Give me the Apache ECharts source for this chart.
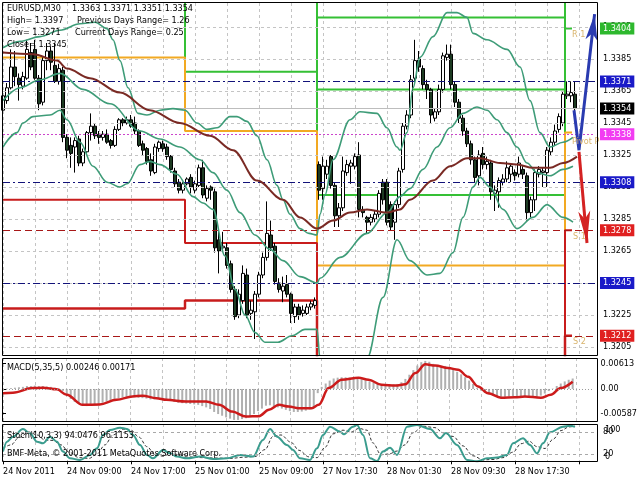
<!DOCTYPE html>
<html><head><meta charset="utf-8">
<script src="https://cdn.jsdelivr.net/npm/echarts@6/dist/echarts.min.js"></script>
<style>html,body{margin:0;padding:0;background:#fff}#c{width:640px;height:480px}</style>
</head><body><div id="c"></div>
<script>
// ---------- data ----------
const tickLabels = ['24 Nov 2011','24 Nov 09:00','24 Nov 17:00','25 Nov 01:00','25 Nov 09:00','27 Nov 17:30','28 Nov 01:30','28 Nov 09:30','28 Nov 17:30'];
const priceTicks = [1.3205,1.3225,1.3245,1.3265,1.3285,1.3305,1.3325,1.3345,1.3365,1.3385,1.3405];
const macdTicks = [0.00613, 0, -0.00587];
const stochTicks = [80, 20];

const opens = [1.3353,1.3359,1.3367,1.3380,1.3373,1.3368,1.3373,1.3389,1.3391,1.3373,
1.3358,1.3384,1.3390,1.3381,1.3371,1.3378,1.3336,1.3331,1.3330,1.3335,
1.3320,1.3327,1.3339,1.3343,1.3338,1.3336,1.3338,1.3334,1.3331,1.3341,
1.3347,1.3345,1.3347,1.3345,1.3340,1.3332,1.3329,1.3322,1.3314,1.3329,
1.3332,1.3330,1.3324,1.3315,1.3308,1.3303,1.3307,1.3311,1.3303,1.3306,
1.3317,1.3298,1.3305,1.3302,1.3272,1.3267,1.3267,1.3257,1.3241,1.3225,
1.3234,1.3250,1.3226,1.3227,1.3238,1.3250,1.3261,1.3275,1.3268,1.3245,
1.3240,1.3244,1.3238,1.3224,1.3230,1.3226,1.3226,1.3230,1.3231,1.3319,
1.3304,1.3313,1.3324,1.3306,1.3287,1.3292,1.3314,1.3318,1.3318,1.3325,
1.3291,1.3286,1.3283,1.3285,1.3288,1.3308,1.3308,1.3294,1.3283,1.3294,
1.3316,1.3343,1.3350,1.3373,1.3385,1.3379,1.3369,1.3366,1.3348,1.3352,
1.3366,1.3386,1.3388,1.3369,1.3358,1.3348,1.3340,1.3332,1.3322,1.3312,
1.3326,1.3319,1.3320,1.3301,1.3302,1.3308,1.3310,1.3313,1.3314,1.3313,
1.3316,1.3312,1.3289,1.3297,1.3313,1.3314,1.3314,1.3327,1.3333,1.3341,
1.3345,1.3362,1.3362,1.3363];
const highs = [1.3366,1.3370,1.3391,1.3390,1.3376,1.3377,1.3397,1.3395,1.3397,1.3375,
1.3386,1.3395,1.3393,1.3395,1.3382,1.3380,1.3338,1.3336,1.3336,1.3337,
1.3329,1.3340,1.3351,1.3345,1.3340,1.3340,1.3341,1.3335,1.3343,1.3348,
1.3348,1.3349,1.3350,1.3349,1.3341,1.3334,1.3330,1.3326,1.3332,1.3334,
1.3334,1.3332,1.3325,1.3317,1.3310,1.3308,1.3311,1.3313,1.3309,1.3319,
1.3322,1.3306,1.3306,1.3304,1.3279,1.3277,1.3270,1.3259,1.3243,1.3241,
1.3256,1.3254,1.3234,1.3240,1.3252,1.3264,1.3296,1.3284,1.3270,1.3248,
1.3249,1.3250,1.3239,1.3232,1.3232,1.3231,1.3232,1.3234,1.3236,1.3321,
1.3324,1.3322,1.3325,1.3308,1.3295,1.3324,1.3322,1.3322,1.3326,1.3333,
1.3293,1.3287,1.3288,1.3290,1.3303,1.3310,1.3310,1.3296,1.3296,1.3317,
1.3345,1.3353,1.3375,1.3397,1.3390,1.3381,1.3372,1.3367,1.3354,1.3369,
1.3389,1.3394,1.3394,1.3371,1.3360,1.3350,1.3342,1.3334,1.3324,1.3328,
1.3330,1.3324,1.3322,1.3306,1.3311,1.3313,1.3321,1.3320,1.3316,1.3324,
1.3318,1.3314,1.3299,1.3316,1.3318,1.3317,1.3330,1.3336,1.3344,1.3351,
1.3365,1.3371,1.3371,1.3371];
const lows = [1.3351,1.3357,1.3366,1.3368,1.3359,1.3366,1.3372,1.3378,1.3372,1.3353,
1.3356,1.3378,1.3378,1.3370,1.3369,1.3333,1.3323,1.3317,1.3314,1.3318,
1.3318,1.3326,1.3334,1.3335,1.3332,1.3334,1.3332,1.3329,1.3330,1.3340,
1.3343,1.3344,1.3342,1.3338,1.3330,1.3325,1.3319,1.3312,1.3313,1.3327,
1.3327,1.3322,1.3314,1.3305,1.3301,1.3301,1.3306,1.3301,1.3301,1.3305,
1.3298,1.3296,1.3297,1.3264,1.3251,1.3265,1.3254,1.3239,1.3222,1.3223,
1.3232,1.3223,1.3222,1.3210,1.3236,1.3248,1.3259,1.3265,1.3244,1.3239,
1.3233,1.3236,1.3220,1.3220,1.3222,1.3224,1.3225,1.3228,1.3229,1.3297,
1.3297,1.3310,1.3304,1.3280,1.3280,1.3290,1.3312,1.3307,1.3316,1.3286,
1.3286,1.3276,1.3281,1.3283,1.3286,1.3294,1.3281,1.3278,1.3272,1.3292,
1.3314,1.3341,1.3348,1.3371,1.3377,1.3366,1.3360,1.3345,1.3346,1.3350,
1.3364,1.3384,1.3366,1.3355,1.3345,1.3337,1.3330,1.3319,1.3308,1.3306,
1.3316,1.3316,1.3297,1.3290,1.3292,1.3306,1.3308,1.3308,1.3309,1.3311,
1.3310,1.3284,1.3286,1.3290,1.3311,1.3305,1.3305,1.3325,1.3331,1.3339,
1.3343,1.3360,1.3358,1.3351];
const closes = [1.3362,1.3367,1.3380,1.3374,1.3369,1.3374,1.3391,1.3380,1.3373,1.3357,
1.3384,1.3390,1.3383,1.3371,1.3379,1.3336,1.3328,1.3326,1.3334,1.3320,
1.3327,1.3339,1.3343,1.3337,1.3336,1.3338,1.3333,1.3331,1.3341,1.3347,
1.3345,1.3347,1.3343,1.3340,1.3331,1.3328,1.3321,1.3315,1.3330,1.3333,
1.3329,1.3324,1.3316,1.3307,1.3303,1.3307,1.3310,1.3305,1.3307,1.3317,
1.3300,1.3304,1.3303,1.3267,1.3265,1.3268,1.3256,1.3241,1.3224,1.3238,
1.3251,1.3225,1.3228,1.3238,1.3250,1.3261,1.3276,1.3267,1.3246,1.3241,
1.3243,1.3238,1.3226,1.3230,1.3225,1.3228,1.3230,1.3232,1.3234,1.3303,
1.3318,1.3318,1.3306,1.3287,1.3292,1.3315,1.3319,1.3320,1.3324,1.3291,
1.3289,1.3283,1.3286,1.3288,1.3301,1.3297,1.3283,1.3280,1.3294,1.3315,
1.3343,1.3350,1.3372,1.3384,1.3380,1.3369,1.3366,1.3350,1.3352,1.3366,
1.3387,1.3388,1.3369,1.3358,1.3348,1.3340,1.3332,1.3322,1.3311,1.3325,
1.3319,1.3321,1.3302,1.3303,1.3309,1.3310,1.3317,1.3318,1.3312,1.3320,
1.3313,1.3289,1.3297,1.3314,1.3316,1.3315,1.3328,1.3333,1.3340,1.3349,
1.3363,1.3363,1.3364,1.3354];

const bbUpper = [[0,1.3392],[4.25,1.3396],[9.25,1.3399],[14.25,1.3403],[19.25,1.3407],[23,1.3408],[26,1.3404],[27.5,1.3397],[29.25,1.3384],[31.25,1.3367],[33.75,1.3351],[36,1.3350],[39.25,1.3353],[42.5,1.3354],[45.5,1.3353],[48.5,1.3345],[51,1.3341],[53.5,1.3342],[56.75,1.3349],[58.5,1.3349],[61,1.3346],[63.5,1.3337],[66,1.3322],[68.5,1.3306],[70,1.3297],[71.75,1.3288],[74.25,1.3279],[76.5,1.3276],[78.5,1.3275],[79.25,1.3288],[80.5,1.3300],[82.5,1.3322],[86.75,1.3347],[89.25,1.3352],[93.5,1.3351],[96,1.3342],[98.5,1.3330],[99.25,1.3328],[101,1.3339],[102.5,1.3367],[104.25,1.3386],[107.5,1.3399],[111,1.3414],[113.5,1.3414],[116,1.3411],[117.5,1.3401],[121,1.3397],[126,1.3391],[129.25,1.3380],[131.75,1.3359],[134.25,1.3339],[136.75,1.3330],[140,1.3333],[142.5,1.3336]];
const bbMiddle = [[0,1.3359],[4.25,1.3367],[9.25,1.3372],[14.25,1.3376],[20,1.3366],[26.75,1.3357],[34.25,1.3340],[39.25,1.3335],[44.25,1.3330],[49.25,1.3322],[52.5,1.3314],[56,1.3303],[59.25,1.3289],[63,1.3275],[66.75,1.3266],[70,1.3259],[74.25,1.3249],[78.5,1.3245],[79.25,1.3248],[84.25,1.3261],[91,1.3276],[96,1.3289],[99.25,1.3299],[101.75,1.3304],[105,1.3316],[108.5,1.3330],[111.75,1.3342],[115,1.3351],[118.5,1.3355],[121,1.3353],[123.5,1.3347],[126,1.3339],[128.5,1.3330],[131,1.3320],[133.5,1.3314],[136.75,1.3312],[140,1.3316],[142.5,1.3318]];
const bbLower = [[0,1.3330],[3.5,1.3339],[5,1.3345],[7.5,1.3349],[11.75,1.3350],[14.25,1.3353],[16,1.3347],[19.25,1.3333],[22.5,1.3318],[26,1.3308],[29.25,1.3305],[31,1.3307],[34.25,1.3319],[36.75,1.3321],[39.25,1.3319],[43.5,1.3313],[47.5,1.3299],[50,1.3295],[52.5,1.3291],[55.5,1.3262],[58,1.3241],[60.5,1.3225],[63,1.3214],[65.5,1.3208],[68.75,1.3208],[72.25,1.3212],[75.5,1.3216],[78.5,1.3216],[79.25,1.3198],[81.75,1.3178],[85.5,1.3159],[91,1.3198],[95,1.3236],[98.5,1.3272],[101.75,1.3259],[106,1.3250],[109.25,1.3251],[112.5,1.3264],[115,1.3286],[117.5,1.3305],[119.25,1.3311],[121.75,1.3305],[125,1.3291],[128.5,1.3279],[132.5,1.3286],[136,1.3294],[140,1.3286],[142.5,1.3283]];
const maLine = [[0,1.3389],[7.5,1.3388],[13.5,1.3384],[16,1.3379],[21.75,1.3373],[29.25,1.3364],[36.75,1.3353],[44.25,1.3345],[51.75,1.3337],[57.5,1.3328],[63.5,1.3309],[70,1.3297],[74.25,1.3286],[78.5,1.3279],[82.5,1.3284],[86.75,1.3289],[91,1.3291],[96,1.3289],[99.25,1.3291],[101.75,1.3297],[107.5,1.3309],[111.75,1.3318],[116,1.3323],[119.25,1.3323],[124.25,1.3320],[128.5,1.3319],[132.5,1.3317],[136.75,1.3317],[140,1.3320],[143.5,1.3324]];

// daily pivot levels (day boundaries in bar units)
const dayStart = [0, 45.5, 78.5, 140.5];
const dayEnd = [45.5, 78.5, 140.5, 142.25];
const pivotLevels = [1.3386, 1.3340, 1.3256, 1.3339];
const r1Levels = [1.3445, 1.3377, 1.3300, 1.3404];
const r2Levels = [1.3490, 1.3430, 1.3366, 1.3450];
const r3Levels = [1.3530, 1.3470, 1.3411, 1.3500];
const s1Levels = [1.3297, 1.3270, 1.3170, 1.3278];
const s2Levels = [1.3229, 1.3234, 1.3130, 1.3212];

const levelPrices = [1.3404, 1.3371, 1.3354, 1.3338, 1.3308, 1.3278, 1.3245, 1.3212];

const projUp = [[142.75,1.3353],[144,1.3328],[147.9,1.3413]];
const projDown = [[144,1.3327],[146,1.3270]];

const macdHist = [0.0000,0.0001,0.0002,0.0003,0.0004,0.0005,0.0007,0.0007,0.0008,0.0007,
0.0007,0.0006,0.0005,0.0003,0.0001,-0.0005,-0.0015,-0.0024,-0.0031,-0.0036,
-0.0040,-0.0041,-0.0040,-0.0038,-0.0036,-0.0033,-0.0030,-0.0027,-0.0024,-0.0022,
-0.0020,-0.0019,-0.0019,-0.0020,-0.0021,-0.0022,-0.0023,-0.0025,-0.0025,-0.0024,
-0.0025,-0.0027,-0.0029,-0.0031,-0.0033,-0.0034,-0.0035,-0.0036,-0.0037,-0.0038,
-0.0041,-0.0044,-0.0048,-0.0055,-0.0060,-0.0064,-0.0068,-0.0071,-0.0074,-0.0074,
-0.0072,-0.0070,-0.0066,-0.0060,-0.0053,-0.0047,-0.0040,-0.0039,-0.0041,-0.0044,
-0.0047,-0.0050,-0.0053,-0.0055,-0.0055,-0.0054,-0.0052,-0.0049,-0.0045,-0.0010,
0.0005,0.0013,0.0020,0.0025,0.0027,0.0028,0.0028,0.0027,0.0026,0.0025,
0.0023,0.0021,0.0018,0.0015,0.0013,0.0012,0.0011,0.0011,0.0011,0.0012,
0.0016,0.0024,0.0034,0.0045,0.0056,0.0064,0.0067,0.0065,0.0060,0.0056,
0.0055,0.0055,0.0052,0.0047,0.0041,0.0035,0.0028,0.0020,0.0012,0.0002,
-0.0004,-0.0009,-0.0013,-0.0016,-0.0018,-0.0019,-0.0019,-0.0018,-0.0017,-0.0017,
-0.0018,-0.0020,-0.0021,-0.0021,-0.0019,-0.0016,-0.0011,-0.0005,0.0001,0.0007,
0.0013,0.0018,0.0022,0.0025];
const macdSignal = [[0,-0.0010],[2.5,-0.0009],[7.5,0.0002],[10,0.0003],[13.5,-0.0001],[16,-0.0014],[20,-0.0038],[24.25,-0.0037],[28.5,-0.0026],[32.5,-0.0018],[35,-0.0016],[38.5,-0.0022],[41,-0.0026],[46,-0.0030],[51,-0.0030],[54.25,-0.0038],[57.5,-0.0054],[61,-0.0066],[64.25,-0.0065],[66.75,-0.0050],[69.25,-0.0038],[71.75,-0.0042],[74.25,-0.0046],[77.5,-0.0046],[79.25,-0.0038],[81.75,0.0002],[85,0.0022],[89.25,0.0027],[91.75,0.0022],[95,0.0010],[98.5,0.0008],[101,0.0011],[103.5,0.0038],[106,0.0059],[108.5,0.0056],[111.75,0.0050],[114.25,0.0046],[116.75,0.0029],[119.25,0.0006],[121.75,-0.0010],[125,-0.0021],[128.5,-0.0020],[131,-0.0018],[135,-0.0021],[137.5,-0.0014],[140,0.0002],[143,0.0017]];

const stochMain = [[0,26.5],[1,53.7],[2.5,67.4],[5,88.3],[6.75,76.5],[8.5,53.7],[10,49.2],[11.75,67.4],[13.5,53.7],[15,26.5],[16.75,8.2],[19.25,3.7],[21.75,17.3],[23.5,35.5],[25,71.9],[26.75,85.5],[29.25,91.9],[31,88.3],[32.5,71.9],[34.25,44.6],[36,17.3],[37.5,8.2],[40,31],[41.75,21.9],[43.5,12.8],[46,8.2],[49.25,12.8],[52.5,6.4],[56,8.2],[59.25,17.3],[62.5,12.8],[65,58.3],[66.75,88.3],[68.5,67.4],[71,44.6],[72.5,31],[74.25,8.2],[76.75,3.7],[78.5,35.5],[80,71.9],[81.75,94.6],[84.25,81],[85.25,74],[87.5,94.6],[88.5,99.2],[90,71.9],[91.75,8.2],[93.5,1],[95,26.5],[96.75,37.3],[98.5,17.3],[101,94.6],[103.5,99.2],[106.75,88.3],[109.25,62.8],[110.75,77],[113.5,44.6],[116,3.7],[118.5,0],[121,8.2],[123.5,10.1],[126,17.3],[127.5,49.2],[130,62.8],[131.75,44.6],[133.5,21.9],[135,49.2],[136.75,79.2],[140,94.6],[141.75,97.3],[143,94.05]];
const stochSignal = [[0,35],[2,45],[4,65],[6.5,80],[8.5,72],[10.5,58],[12.5,57],[14.5,45],[16.5,25],[19,10],[21.5,8],[23.5,20],[25.5,45],[27.5,72],[30,88],[32,85],[34,66],[36,40],[38,18],[40,14],[42,22],[44,18],[46,12],[50,10],[53,9],[57,8],[60,11],[63,13],[65.5,32],[67.5,68],[69.5,72],[72,52],[74,30],[76.5,12],[78.5,10],[80.5,38],[82.5,75],[85,85],[87,80],[89,90],[91,85],[92.5,50],[94.5,18],[96.5,20],[98.5,28],[100.5,45],[102.5,78],[105,96],[108,92],[110,78],[112.5,68],[115,42],[117.5,15],[120,4],[122.5,5],[125,10],[127.5,25],[129.5,48],[131.5,55],[133.5,40],[135.5,35],[137.5,60],[139.5,84],[141.5,94],[143,96.1]];

// ---------- build ----------
const NCAT = 149;
const cats = [];
for (let i = 0; i < NCAT; i++) cats.push('b' + i);
function xLabel(v, idx) {
  const k = idx / 16;
  return (idx % 16 === 0 && k < tickLabels.length) ? tickLabels[k] : '';
}
const candleData = opens.map((o, i) => [o, closes[i], lows[i], highs[i]]);
function steps(levels) {
  const pts = [];
  levels.forEach((v, d) => { pts.push([dayStart[d], v]); pts.push([dayEnd[d], v]); });
  return pts;
}

const F = "'DejaVu Sans Condensed', 'DejaVu Sans', sans-serif";
const FS = 9;
const FONT = FS + 'px ' + F;
const gridLineStyle = {color: '#c4c4c4', type: [3, 3], width: 1};

const navy = {color: '#12127a', type: [7, 3, 2, 3], width: 1};
const dred = {color: '#a81818', type: [7, 4], width: 1};
const levelStyles = [
  {box: '#2eb82e', line: {color: 'rgba(0,0,0,0)', type: 'solid', width: 1}},
  {box: '#1a1ac8', line: navy},
  {box: '#000000', line: {color: '#bdbdbd', type: 'solid', width: 1}},
  {box: '#f23cf2', line: {color: '#cc44cc', type: [2, 2], width: 1}},
  {box: '#1a1ac8', line: navy},
  {box: '#e02020', line: dred},
  {box: '#1a1ac8', line: navy},
  {box: '#e02020', line: dred}
];

const markData = priceTicks.map(v => ({yAxis: v, lineStyle: gridLineStyle, label: {show: false}}))
  .concat(levelPrices.map((v, k) => ({
    yAxis: v,
    lineStyle: levelStyles[k].line,
    label: {show: true, position: 'end', distance: 5, formatter: v.toFixed(4),
      color: '#fff', backgroundColor: levelStyles[k].box, padding: [2, 3, 1, 3],
      fontFamily: F, fontSize: FS, opacity: 1}
  })));

const catAxisBase = (grid) => ({
  type: 'category', gridIndex: grid, data: cats, boundaryGap: false,
  axisLine: {show: false}, axisTick: {show: false}, axisLabel: {show: false},
  splitLine: {show: true, interval: 7, lineStyle: gridLineStyle}
});
const valX = (grid) => ({type: 'value', gridIndex: grid, min: 0, max: 148, show: false});

const lineBase = {type: 'line', symbol: 'none', smooth: 0.35, smoothMonotone: 'x', animation: false};
const stepBase = {type: 'line', symbol: 'none', smooth: false, animation: false, xAxisIndex: 1, yAxisIndex: 0, z: 2};

const option = {
  animation: false,
  backgroundColor: '#ffffff',
  textStyle: {fontFamily: F},
  grid: [
    {left: 3, top: 3, width: 592, height: 352},
    {left: 3, top: 358, width: 592, height: 64},
    {left: 3, top: 424, width: 592, height: 38}
  ],
  xAxis: [
    catAxisBase(0), valX(0),
    catAxisBase(1), valX(1),
    Object.assign(catAxisBase(2), {
      axisTick: {show: true, interval: 15, length: 3, lineStyle: {color: '#000'}},
      axisLabel: {show: true, interval: 15, align: 'left', margin: 5, fontSize: FS, color: '#000', fontFamily: F, formatter: xLabel}
    }),
    valX(2)
  ],
  yAxis: [
    {type: 'value', gridIndex: 0, position: 'right', offset: 2, min: 1.3200, max: 1.3420,
      splitLine: {show: false}, axisLine: {show: false},
      axisTick: {show: true, customValues: priceTicks, length: 3, lineStyle: {color: '#000'}},
      axisLabel: {customValues: priceTicks, formatter: v => v.toFixed(4), fontSize: FS, color: '#000', margin: 6, fontFamily: F}},
    {type: 'value', gridIndex: 1, position: 'right', offset: 2, min: -0.0079, max: 0.0074,
      splitLine: {show: false}, axisLine: {show: false},
      axisTick: {show: true, customValues: macdTicks, length: 3, lineStyle: {color: '#000'}},
      axisLabel: {customValues: macdTicks, formatter: v => (v === 0 ? '0.00' : v.toFixed(5)), fontSize: FS, color: '#000', margin: 6, fontFamily: F}},
    {type: 'value', gridIndex: 2, position: 'right', offset: 2, min: -1.9, max: 101.9,
      splitLine: {show: false}, axisLine: {show: false},
      axisTick: {show: true, customValues: stochTicks, length: 3, lineStyle: {color: '#000'}},
      axisLabel: {customValues: stochTicks, formatter: v => String(v), fontSize: FS, color: '#000', margin: 6, fontFamily: F}}
  ],
  series: [
    // hidden close line carrying the horizontal grid + level lines
    {type: 'line', xAxisIndex: 0, yAxisIndex: 0, data: closes, z: 1, silent: true, symbol: 'none',
      lineStyle: {opacity: 0}, animation: false,
      markLine: {silent: true, symbol: ['none', 'none'], animation: false, precision: 4, data: markData}},
    Object.assign({}, stepBase, {data: steps(r1Levels), lineStyle: {color: '#35c035', width: 2}}),
    Object.assign({}, stepBase, {data: steps(r2Levels), lineStyle: {color: '#35c035', width: 2}}),
    Object.assign({}, stepBase, {data: steps(r3Levels), lineStyle: {color: '#35c035', width: 2}}),
    Object.assign({}, stepBase, {data: steps(pivotLevels), lineStyle: {color: '#f2a922', width: 2}}),
    Object.assign({}, stepBase, {data: steps(s1Levels), lineStyle: {color: '#c81c1c', width: 2}}),
    Object.assign({}, stepBase, {data: steps(s2Levels), lineStyle: {color: '#c81c1c', width: 2.5}}),
    {type: 'candlestick', xAxisIndex: 0, yAxisIndex: 0, data: candleData, barWidth: 3, z: 4,
      itemStyle: {color: '#ffffff', color0: '#1d3b22', borderColor: '#000000', borderColor0: '#000000', borderWidth: 1}},
    Object.assign({}, lineBase, {xAxisIndex: 1, yAxisIndex: 0, data: bbUpper, lineStyle: {color: '#3e9c78', width: 1.6}, z: 5}),
    Object.assign({}, lineBase, {xAxisIndex: 1, yAxisIndex: 0, data: bbMiddle, lineStyle: {color: '#3e9c78', width: 1.6}, z: 5}),
    Object.assign({}, lineBase, {xAxisIndex: 1, yAxisIndex: 0, data: bbLower, lineStyle: {color: '#3e9c78', width: 1.6}, z: 5}),
    Object.assign({}, lineBase, {xAxisIndex: 1, yAxisIndex: 0, data: maLine, lineStyle: {color: '#7a2a24', width: 2}, z: 5}),
    {type: 'line', xAxisIndex: 1, yAxisIndex: 0, z: 6, symbol: 'none', showSymbol: true, animation: false,
      lineStyle: {color: '#2a3bb0', width: 3}, itemStyle: {color: '#2a3bb0'},
      data: projUp.map((p, k) => k === projUp.length - 1 ? {value: p, symbol: 'arrow', symbolSize: [9, 26], symbolRotate: -7} : {value: p})},
    {type: 'line', xAxisIndex: 1, yAxisIndex: 0, z: 6, symbol: 'none', showSymbol: true, animation: false,
      lineStyle: {color: '#d42222', width: 3}, itemStyle: {color: '#d42222'},
      data: projDown.map((p, k) => k === projDown.length - 1 ? {value: p, symbol: 'arrow', symbolSize: [9, 32], symbolRotate: 185} : {value: p})},
    // MACD
    {type: 'bar', xAxisIndex: 2, yAxisIndex: 1, data: macdHist, barWidth: 2, itemStyle: {color: '#b0b0b0'}, z: 2, animation: false,
      markLine: {silent: true, symbol: ['none', 'none'], label: {show: false}, data: [{yAxis: 0}], lineStyle: {color: '#9a9a9a', type: [1, 2], width: 1}}},
    Object.assign({}, lineBase, {xAxisIndex: 3, yAxisIndex: 1, data: macdSignal, lineStyle: {color: '#cc1b1b', width: 2.5}, z: 3}),
    // Stochastic
    Object.assign({}, lineBase, {xAxisIndex: 5, yAxisIndex: 2, data: stochSignal, lineStyle: {color: '#333333', width: 1, type: [3, 2]}, z: 3,
      markLine: {silent: true, symbol: ['none', 'none'], label: {show: false}, data: [{yAxis: 80}, {yAxis: 20}], lineStyle: {color: '#a8a8a8', type: [3, 3], width: 1}}}),
    Object.assign({}, lineBase, {xAxisIndex: 5, yAxisIndex: 2, data: stochMain, lineStyle: {color: '#3a9c8e', width: 2}, z: 4})
  ],
  graphic: [
    {type: 'rect', shape: {x: 2.5, y: 2.5, width: 595, height: 353}, style: {fill: 'none', stroke: '#000', lineWidth: 1}, z: 100, silent: true},
    {type: 'rect', shape: {x: 2.5, y: 358.5, width: 595, height: 63}, style: {fill: 'none', stroke: '#000', lineWidth: 1}, z: 100, silent: true},
    {type: 'rect', shape: {x: 2.5, y: 424.5, width: 595, height: 37}, style: {fill: 'none', stroke: '#000', lineWidth: 1}, z: 100, silent: true},
    {type: 'text', x: 7, y: 9, z: 100, style: {text: 'EURUSD,M30', fill: '#000', font: FONT, verticalAlign: 'middle'}},
    {type: 'text', x: 72, y: 9, z: 100, style: {text: '1.3363 1.3371 1.3351 1.3354', fill: '#000', font: FONT, verticalAlign: 'middle'}},
    {type: 'text', x: 7, y: 21, z: 100, style: {text: 'High= 1.3397', fill: '#000', font: FONT, verticalAlign: 'middle'}},
    {type: 'text', x: 77, y: 21, z: 100, style: {text: 'Previous Days Range= 1.26', fill: '#000', font: FONT, verticalAlign: 'middle'}},
    {type: 'text', x: 7, y: 33, z: 100, style: {text: 'Low= 1.3271', fill: '#000', font: FONT, verticalAlign: 'middle'}},
    {type: 'text', x: 75, y: 33, z: 100, style: {text: 'Current Days Range= 0.25', fill: '#000', font: FONT, verticalAlign: 'middle'}},
    {type: 'text', x: 7, y: 45, z: 100, style: {text: 'Close= 1.3345', fill: '#000', font: FONT, verticalAlign: 'middle'}},
    {type: 'text', x: 572, y: 35, z: 90, style: {text: 'R 1', fill: '#d9b46c', font: FONT, verticalAlign: 'middle'}},
    {type: 'text', x: 572, y: 142, z: 90, style: {text: 'Pivot P', fill: '#d9b46c', font: FONT, verticalAlign: 'middle'}},
    {type: 'text', x: 573, y: 237, z: 90, style: {text: 'S 1', fill: '#d9b46c', font: FONT, verticalAlign: 'middle'}},
    {type: 'text', x: 573, y: 342, z: 90, style: {text: 'S 2', fill: '#d9b46c', font: FONT, verticalAlign: 'middle'}},
    {type: 'text', x: 7, y: 368, z: 100, style: {text: 'MACD(5,35,5) 0.00246 0.00171', fill: '#000', font: FONT, verticalAlign: 'middle'}},
    {type: 'text', x: 7, y: 436, z: 100, style: {text: 'Stoch(10,3,3) 94.0476 96.1153', fill: '#000', font: FONT, verticalAlign: 'middle'}},
    {type: 'text', x: 7, y: 454, z: 100, style: {text: 'BMF-Meta, © 2001-2011 MetaQuotes Software Corp.', fill: '#000', font: FONT, verticalAlign: 'middle'}},
    {type: 'text', x: 605, y: 430, z: 100, style: {text: '100', fill: '#000', font: FONT, verticalAlign: 'middle'}},
    {type: 'text', x: 605, y: 457, z: 100, style: {text: '0', fill: '#000', font: FONT, verticalAlign: 'middle'}}
  ]
};
const chart = echarts.init(document.getElementById('c'), null, {renderer: 'canvas'});
chart.setOption(option);
</script></body></html>
